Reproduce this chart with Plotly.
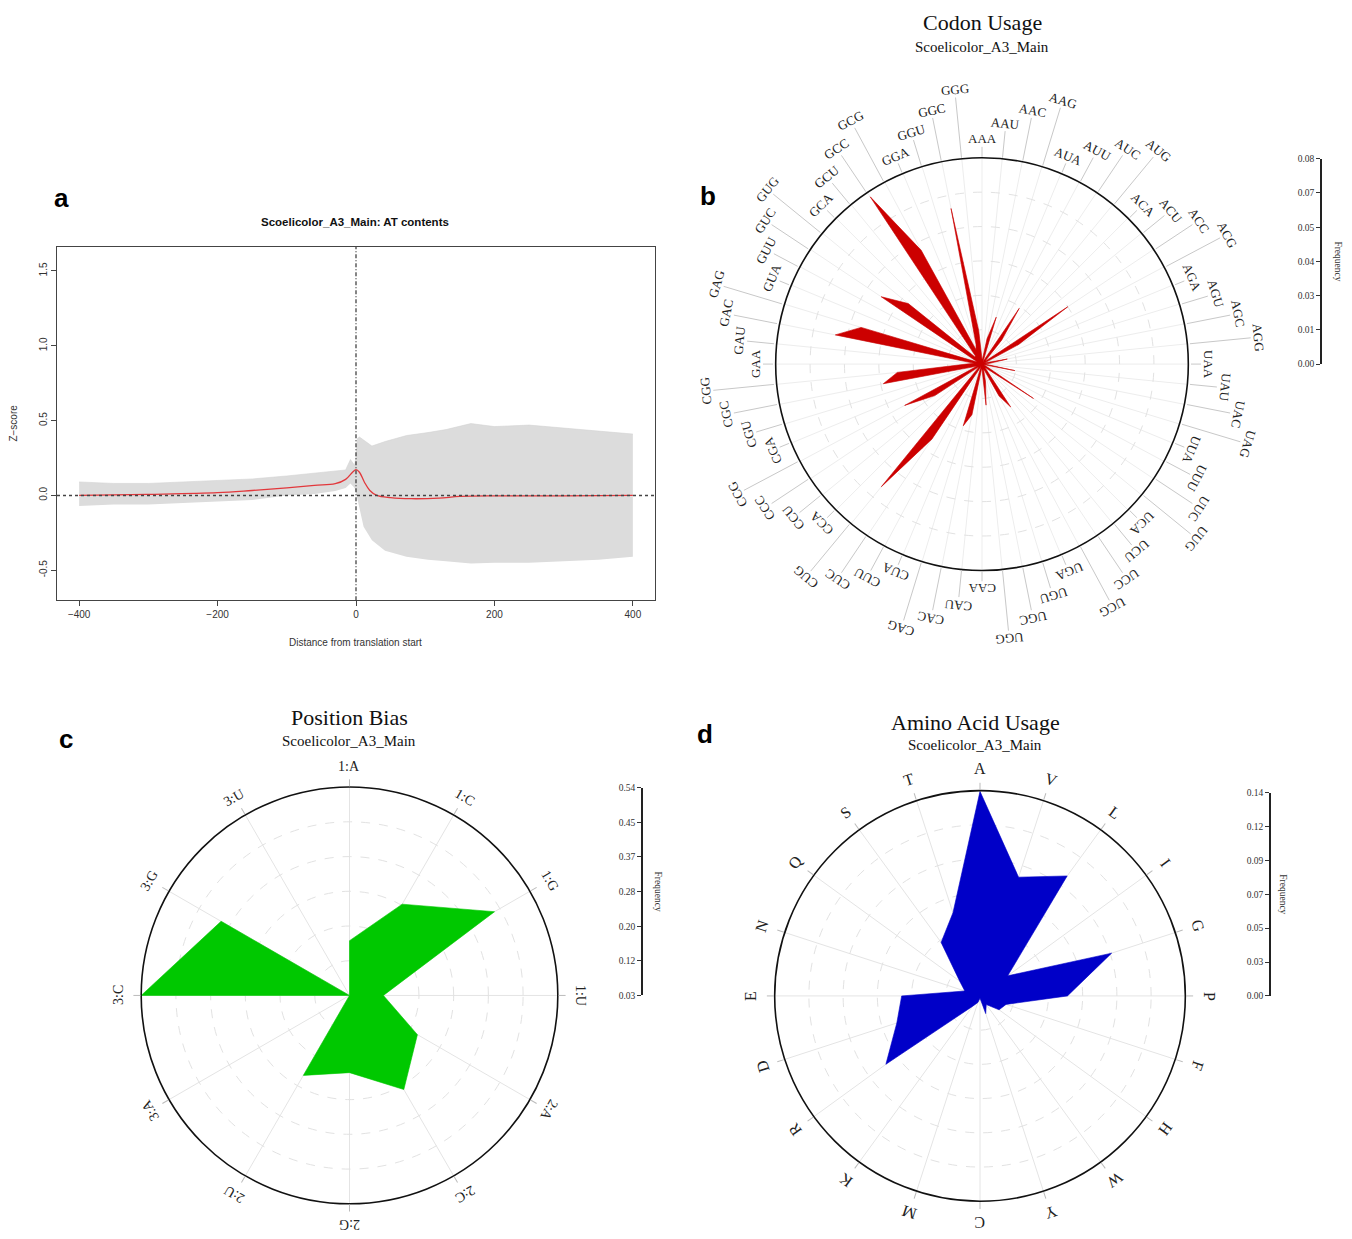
import math
import plotly.graph_objects as go

W, H = 1352, 1239

# ---------------- Panel a: AT contents ----------------
pos_mean = [-400, -300, -200, -150, -100, -60, -30, -15, -5, 0, 5, 12, 20, 30, 50, 80, 120, 150, 200, 300, 400]
z_mean = [0.0, 0.007, 0.018, 0.033, 0.05, 0.067, 0.078, 0.107, 0.155, 0.173, 0.155, 0.09, 0.033, 0.0,
          -0.015, -0.022, -0.018, -0.007, -0.003, -0.003, 0.0]

pos_env = [-400, -350, -300, -250, -200, -150, -100, -60, -30, -15, -8, -2, 0, 2, 5, 11, 23, 42, 73, 104,
           130, 166, 200, 250, 300, 350, 400]
z_upper = [0.09, 0.08, 0.08, 0.09, 0.10, 0.11, 0.13, 0.15, 0.16, 0.17, 0.24, 0.20, 0.26, 0.38, 0.39, 0.37,
           0.33, 0.36, 0.40, 0.42, 0.44, 0.48, 0.46, 0.47, 0.45, 0.43, 0.41]
z_lower = [-0.07, -0.06, -0.06, -0.05, -0.04, -0.03, 0.0, 0.01, 0.03, 0.05, 0.08, 0.05, 0.02, -0.02, -0.08,
           -0.21, -0.30, -0.37, -0.41, -0.43, -0.44, -0.455, -0.45, -0.45, -0.44, -0.43, -0.41]
a_xticks = [-400, -200, 0, 200, 400]
a_yticks = [-0.5, 0.0, 0.5, 1.0, 1.5]
a_yticktext = ["-0.5", "0.0", "0.5", "1.0", "1.5"]

# ---------------- Panel b: Codon usage ----------------
codons = ["AAA", "AAU", "AAC", "AAG", "AUA", "AUU", "AUC", "AUG", "ACA", "ACU", "ACC", "ACG",
          "AGA", "AGU", "AGC", "AGG", "UAA", "UAU", "UAC", "UAG", "UUA", "UUU", "UUC", "UUG",
          "UCA", "UCU", "UCC", "UCG", "UGA", "UGU", "UGC", "UGG", "CAA", "CAU", "CAC", "CAG",
          "CUA", "CUU", "CUC", "CUG", "CCA", "CCU", "CCC", "CCG", "CGA", "CGU", "CGC", "CGG",
          "GAA", "GAU", "GAC", "GAG", "GUA", "GUU", "GUC", "GUG", "GCA", "GCU", "GCC", "GCG",
          "GGA", "GGU", "GGC", "GGG"]
codon_freq = [0.002, 0.002, 0.010, 0.019, 0.001, 0.002, 0.026, 0.012, 0.002, 0.002, 0.040, 0.016,
              0.001, 0.002, 0.010, 0.003, 0.001, 0.002, 0.013, 0.001, 0.001, 0.002, 0.024, 0.004,
              0.002, 0.002, 0.020, 0.014, 0.003, 0.002, 0.007, 0.016, 0.002, 0.002, 0.020, 0.025,
              0.001, 0.002, 0.035, 0.0615, 0.002, 0.002, 0.022, 0.034, 0.002, 0.004, 0.039, 0.033,
              0.006, 0.003, 0.058, 0.049, 0.002, 0.003, 0.047, 0.037, 0.004, 0.004, 0.078, 0.050,
              0.006, 0.008, 0.0615, 0.013]
codon_range = [0.0, 0.08]
codon_scale_text = ["0.00", "0.01", "0.03", "0.04", "0.05", "0.07", "0.08"]

# ---------------- Panel c: Position bias ----------------
positions = ["1:A", "1:C", "1:G", "1:U", "2:A", "2:C", "2:G", "2:U", "3:A", "3:C", "3:G", "3:U"]
pos_freq = [0.164, 0.288, 0.440, 0.113, 0.222, 0.296, 0.219, 0.256, 0.030, 0.540, 0.393, 0.030]
pos_range = [0.03, 0.54]
pos_scale_text = ["0.03", "0.12", "0.20", "0.28", "0.37", "0.45", "0.54"]

# ---------------- Panel d: Amino acid usage ----------------
amino = ["A", "V", "L", "I", "G", "P", "F", "H", "W", "Y", "C", "M", "K", "R", "D", "E", "N", "Q", "S", "T"]
amino_freq = [0.138, 0.0856, 0.101, 0.026, 0.0945, 0.061, 0.0215, 0.019, 0.0105, 0.0157, 0.005, 0.008,
              0.012, 0.080, 0.061, 0.055, 0.014, 0.020, 0.047, 0.061]
amino_range = [0.0035, 0.1385]
amino_scale_text = ["0.00", "0.03", "0.05", "0.07", "0.09", "0.12", "0.14"]

SERIF = "Liberation Serif, Times New Roman, serif"
SANS = "Liberation Sans, Arial, sans-serif"

fig = go.Figure()

def px2paper(px, py):
    return px / W, 1 - py / H

# ---- panel a traces
fig.add_trace(go.Scatter(x=pos_env, y=z_lower, mode="lines", line=dict(width=0, color="#d6d6d6"),
                         showlegend=False, hoverinfo="skip"))
fig.add_trace(go.Scatter(x=pos_env, y=z_upper, mode="lines", line=dict(width=0.6, color="#d3d3d3"),
                         fill="tonexty", fillcolor="#dcdcdc", showlegend=False, hoverinfo="skip"))
fig.add_trace(go.Scatter(x=pos_mean, y=z_mean, mode="lines", line=dict(width=1.3, color="#e2383c", shape="spline"),
                         showlegend=False))

ax_l, ax_r, ax_t, ax_b = 57, 655, 244, 600
fig.update_layout(
    xaxis=dict(domain=[ax_l / W, ax_r / W], range=[-432, 432], tickvals=a_xticks, ticks="outside", ticklen=5,
               tickcolor="#444", showline=True, mirror=True, linecolor="#444", linewidth=1, showgrid=False,
               zeroline=False, tickfont=dict(family=SANS, size=10, color="#333"), anchor="y"),
    yaxis=dict(domain=[1 - ax_b / H, 1 - ax_t / H], range=[-0.70, 1.66], tickvals=a_yticks, ticktext=a_yticktext,
               ticks="outside", ticklen=5, tickcolor="#444", showline=True, mirror=True, linecolor="#444",
               linewidth=1, showgrid=False, zeroline=False, tickangle=-90,
               tickfont=dict(family=SANS, size=10, color="#333"), anchor="x"),
)
shapes = [
    dict(type="line", xref="x", yref="y domain", x0=0, x1=0, y0=0, y1=1,
         line=dict(color="#222", width=1.1, dash="4px,2px,1px,2px")),
    dict(type="line", xref="x domain", yref="y", x0=0, x1=1, y0=0, y1=0,
         line=dict(color="#444", width=1.5, dash="dot")),
]
annotations = []

def ann(px, py, text, size, family=SERIF, bold=False, angle=0, color="#111", xanchor="center"):
    x, y = px2paper(px, py)
    annotations.append(dict(x=x, y=y, xref="paper", yref="paper", text=("<b>%s</b>" % text) if bold else text,
                            showarrow=False, textangle=angle, xanchor=xanchor, yanchor="middle",
                            font=dict(family=family, size=size, color=color)))

ann(355, 219, "Scoelicolor_A3_Main: AT contents", 11.5, SANS, bold=True)
ann(14, 422, "Z\u2212score", 10, SANS, angle=-90, color="#333")
ann(355, 643, "Distance from translation start", 10, SANS, color="#333")

# panel letters
ann(61, 195, "a", 26, SANS, bold=True, color="#000")
ann(708, 193, "b", 26, SANS, bold=True, color="#000")
ann(66, 740, "c", 26, SANS, bold=True, color="#000")
ann(705, 735, "d", 26, SANS, bold=True, color="#000")

# titles
ann(982, 18, "Codon Usage", 22)
ann(982, 42, "Scoelicolor_A3_Main", 15)
ann(349, 718, "Position Bias", 22)
ann(349, 742, "Scoelicolor_A3_Main", 15)
ann(975, 723, "Amino Acid Usage", 22)
ann(975, 746, "Scoelicolor_A3_Main", 15)

# ---- polar panels
def add_radar(name, cats, vals, rng, color, cx, cy, R, ticks_out, gridc):
    n = len(cats)
    step = (rng[1] - rng[0]) / 6
    x0, y0 = px2paper(cx - R, cy + R)
    x1, y1 = px2paper(cx + R, cy - R)
    fig.add_trace(go.Scatterpolar(r=vals + [vals[0]], theta=cats + [cats[0]], mode="lines", fill="toself",
                                  fillcolor=color, line=dict(color=color, width=0.6), subplot=name,
                                  showlegend=False))
    fig.update_layout(**{name: dict(
        domain=dict(x=[x0, x1], y=[y0, y1]), bgcolor="white",
        radialaxis=dict(range=rng, tickvals=[rng[0] + step * i for i in range(1, 6)], showticklabels=False,
                        ticks="", showline=False, gridcolor="#e2e2e2", griddash="dash", gridwidth=1),
        angularaxis=dict(type="category", categoryarray=cats, rotation=90, direction="clockwise",
                         showticklabels=False, ticks="outside" if ticks_out else "", ticklen=7,
                         tickcolor="#bbbbbb", showline=True, linecolor="#111", linewidth=1.6,
                         gridcolor=gridc, gridwidth=1),
    )})
    return n

# panel b
bcx, bcy, bR = 982, 362, 208
nb = add_radar("polar", codons, codon_freq, codon_range, "#cc0000", bcx, bcy, bR, False, "#ededed")
for i, c in enumerate(codons):
    ang = 360.0 * i / nb
    k = i % 4
    rl = bR + 19 + 17 * k
    s, co = math.sin(math.radians(ang)), math.cos(math.radians(ang))
    xa, ya = px2paper(bcx + (bR + 1) * s, bcy - (bR + 1) * co)
    xb, yb = px2paper(bcx + (rl - 8) * s, bcy - (rl - 8) * co)
    shapes.append(dict(type="line", xref="paper", yref="paper", x0=xa, y0=ya, x1=xb, y1=yb,
                       line=dict(color="#c8c8c8", width=1)))
    a = ang if ang <= 180 else ang - 360
    ann(bcx + rl * s, bcy - rl * co, c, 13, angle=a, color="#222")

# panel c
ccx, ccy, cR = 349.5, 998.5, 210
nc = add_radar("polar2", positions, pos_freq, pos_range, "#00c800", ccx, ccy, cR, True, "#e4e4e4")
for i, c in enumerate(positions):
    ang = 360.0 * i / nc
    rl = cR + 21
    s, co = math.sin(math.radians(ang)), math.cos(math.radians(ang))
    a = ang if ang <= 180 else ang - 360
    ann(ccx + rl * s, ccy - rl * co, c, 14, angle=a, color="#222")

# panel d
dcx, dcy, dR = 980, 999, 207
nd = add_radar("polar3", amino, amino_freq, amino_range, "#0000c8", dcx, dcy, dR, True, "#e4e4e4")
for i, c in enumerate(amino):
    ang = 360.0 * i / nd
    rl = dR + 22
    s, co = math.sin(math.radians(ang)), math.cos(math.radians(ang))
    a = ang if ang <= 180 else ang - 360
    ann(dcx + rl * s, dcy - rl * co, c, 16, angle=a, color="#222")

# ---- frequency scales
def add_scale(idx, line_x, top_y, bot_y, rng, texts, label_x):
    step = (rng[1] - rng[0]) / 6
    fig.add_trace(go.Scatter(x=[], y=[], xaxis="x%d" % idx, yaxis="y%d" % idx, showlegend=False))
    fig.update_layout(**{
        "xaxis%d" % idx: dict(domain=[line_x / W, (line_x + 1) / W], visible=False, anchor="y%d" % idx,
                              range=[0, 1]),
        "yaxis%d" % idx: dict(domain=[1 - bot_y / H, 1 - top_y / H], range=rng, anchor="x%d" % idx,
                              tickvals=[rng[0] + step * i for i in range(7)], ticktext=texts,
                              ticks="outside", ticklen=4, tickwidth=1, tickcolor="#333", showline=True,
                              linecolor="#222", linewidth=1.6, showgrid=False, zeroline=False, side="left",
                              tickfont=dict(family=SERIF, size=9.5, color="#333")),
    })
    ann(label_x, (top_y + bot_y) / 2, "Frequency", 9.5, angle=90, color="#333")

add_scale(2, 1322, 155, 362, codon_range, codon_scale_text, 1338)
add_scale(3, 643, 789, 998.5, pos_range, pos_scale_text, 658)
add_scale(4, 1271, 794, 999, amino_range, amino_scale_text, 1283)

fig.update_layout(width=W, height=H, margin=dict(l=0, r=0, t=0, b=0), paper_bgcolor="white",
                  plot_bgcolor="white", shapes=shapes, annotations=annotations, showlegend=False)

fig.write_html("out.html", config={"displayModeBar": False},
               post_script="document.body.style.margin='0';")
